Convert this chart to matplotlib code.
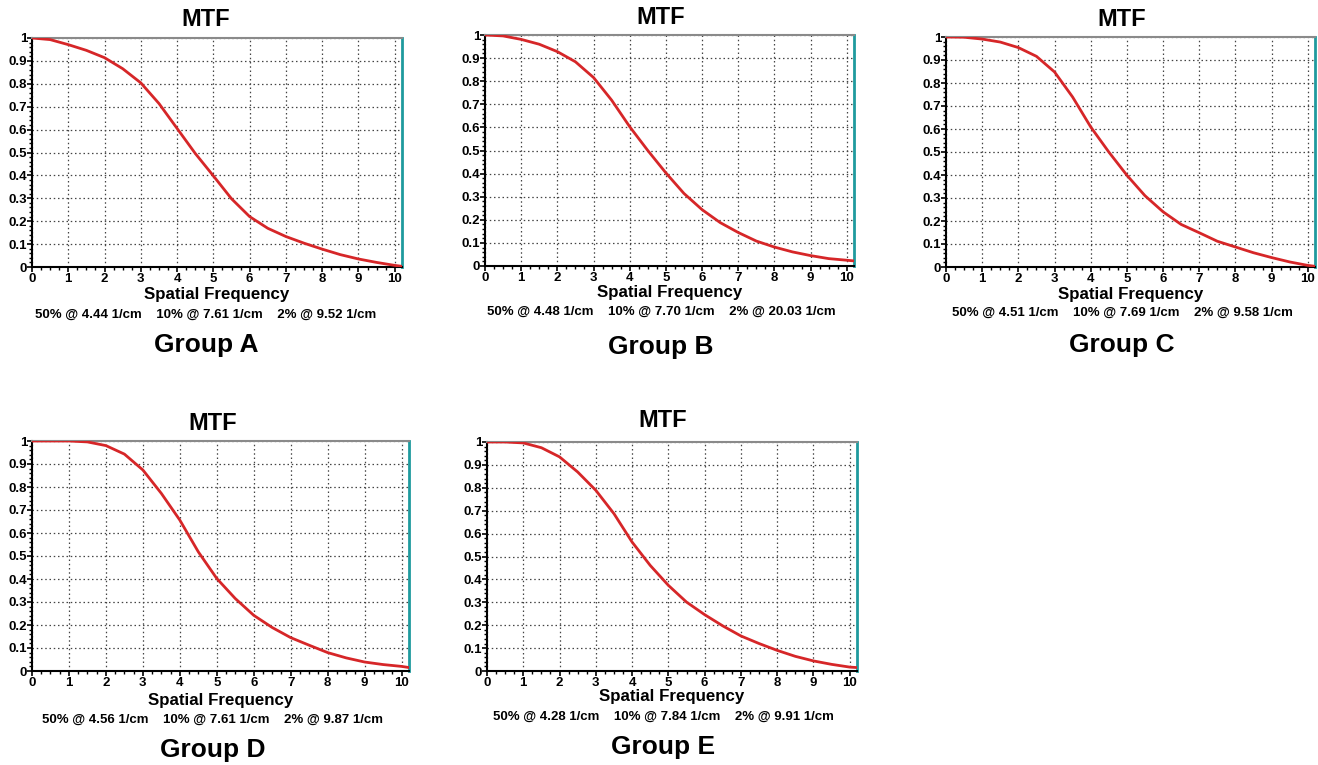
import matplotlib.pyplot as plt
from matplotlib.ticker import MultipleLocator

plt.rcParams['font.family'] = ['Liberation Sans', 'DejaVu Sans']
plt.rcParams['font.weight'] = 'bold'

W, H = 1318, 765

# spatial frequency samples (1/cm)
freq = [0, 0.5, 1, 1.5, 2, 2.5, 3, 3.5, 4, 4.5, 5, 5.5, 6, 6.5, 7, 7.5,
        8, 8.5, 9, 9.5, 10, 10.2]

mtf_a = [1.0, 0.993, 0.971, 0.946, 0.914, 0.866, 0.804, 0.714, 0.605, 0.496, 0.398,
         0.298, 0.22, 0.169, 0.133, 0.104, 0.078, 0.054, 0.035, 0.020, 0.007, 0.003]
mtf_b = [1.0, 0.996, 0.981, 0.96, 0.928, 0.884, 0.816, 0.718, 0.603, 0.50, 0.403,
         0.314, 0.244, 0.188, 0.145, 0.108, 0.082, 0.061, 0.045, 0.032, 0.025, 0.022]
mtf_c = [1.0, 0.999, 0.991, 0.978, 0.954, 0.916, 0.848, 0.739, 0.609, 0.50, 0.399,
         0.31, 0.24, 0.185, 0.149, 0.112, 0.087, 0.062, 0.041, 0.022, 0.007, 0.003]
mtf_d = [1.0, 1.0, 1.0, 0.996, 0.98, 0.943, 0.874, 0.772, 0.656, 0.518, 0.402,
         0.315, 0.242, 0.189, 0.145, 0.112, 0.08, 0.057, 0.039, 0.028, 0.02, 0.015]
mtf_e = [1.0, 1.0, 0.996, 0.975, 0.935, 0.869, 0.789, 0.687, 0.563, 0.461, 0.374,
         0.301, 0.246, 0.197, 0.153, 0.12, 0.09, 0.064, 0.044, 0.029, 0.017, 0.015]

groups = ['Group A', 'Group B', 'Group C', 'Group D', 'Group E']
f50 = [4.44, 4.48, 4.51, 4.56, 4.28]
f10 = [7.61, 7.70, 7.69, 7.61, 7.84]
f2 = [9.52, 20.03, 9.58, 9.87, 9.91]

x_ticks = list(range(0, 11))
y_ticks = [0, 0.1, 0.2, 0.3, 0.4, 0.5, 0.6, 0.7, 0.8, 0.9, 1]
y_labels = ['0', '0.1', '0.2', '0.3', '0.4', '0.5', '0.6', '0.7', '0.8', '0.9', '1']

curves = [mtf_a, mtf_b, mtf_c, mtf_d, mtf_e]

# panel layout in pixels: axes box (left, top, right, bottom), text centre x,
# and y of title / x label / stats line / group name
boxes = [(32, 38, 402, 267), (485, 35, 854, 266), (946, 37, 1315, 267),
         (32, 441, 409, 671), (487, 442, 857, 671)]
text_cx = [206, 661, 1122, 213, 663]
title_y = [20, 18, 19, 423, 420]
xlab_y = [295, 292, 294, 701, 696]
stat_y = [315, 312, 313, 720, 717]
group_y = [345, 347, 345, 750, 747]

RED = '#d62628'
TEAL = '#1f9a9e'

fig = plt.figure(figsize=(W / 100, H / 100), dpi=100)


def fx(px):
    return px / W


def fy(py):
    return 1 - py / H


for i, mtf in enumerate(curves):
    l, t, r, b = boxes[i]
    ax = fig.add_axes([fx(l), fy(b), fx(r - l), (b - t) / H])

    ax.plot(freq, mtf, color=RED, lw=2.0, zorder=3,
            solid_capstyle='round', solid_joinstyle='round')

    ax.set_xlim(0, 10.2)
    ax.set_ylim(0, 1)
    ax.set_xticks(x_ticks)
    ax.set_yticks(y_ticks)
    ax.set_yticklabels(y_labels)
    ax.xaxis.set_minor_locator(MultipleLocator(0.25))
    ax.yaxis.set_minor_locator(MultipleLocator(0.02))
    ax.tick_params(which='major', direction='out', length=3.5, width=1.2,
                   labelsize=9.5, colors='black')
    ax.tick_params(axis='y', which='major', pad=0)
    ax.tick_params(axis='x', which='major', pad=1)
    ax.tick_params(which='minor', direction='out', length=2.5, width=1.0)
    for lab in ax.get_xticklabels() + ax.get_yticklabels():
        lab.set_fontweight('bold')

    ax.grid(True, which='major', color='#444444', lw=0.9,
            linestyle=(0, (1.2, 2.2)), zorder=1)
    ax.set_axisbelow(True)

    ax.spines['left'].set_linewidth(1.5)
    ax.spines['bottom'].set_linewidth(1.5)
    ax.spines['top'].set_color('#8a8a8a')
    ax.spines['top'].set_linewidth(1.5)
    ax.spines['right'].set_color(TEAL)
    ax.spines['right'].set_linewidth(2.0)

    cx = text_cx[i]
    fig.text(fx(cx), fy(title_y[i]), 'MTF', ha='center', va='center',
             fontsize=17, fontweight='bold')
    fig.text(fx((l + r) / 2), fy(xlab_y[i]), 'Spatial Frequency', ha='center',
             va='center', fontsize=12.2, fontweight='bold')
    stats = (f'50% @ {f50[i]:.2f} 1/cm    10% @ {f10[i]:.2f} 1/cm    '
             f'2% @ {f2[i]:.2f} 1/cm')
    fig.text(fx(cx), fy(stat_y[i]), stats, ha='center', va='center',
             fontsize=9.5, fontweight='bold')
    fig.text(fx(cx), fy(group_y[i]), groups[i], ha='center', va='center',
             fontsize=19, fontweight='bold')

fig.savefig('out.png', dpi=100)
